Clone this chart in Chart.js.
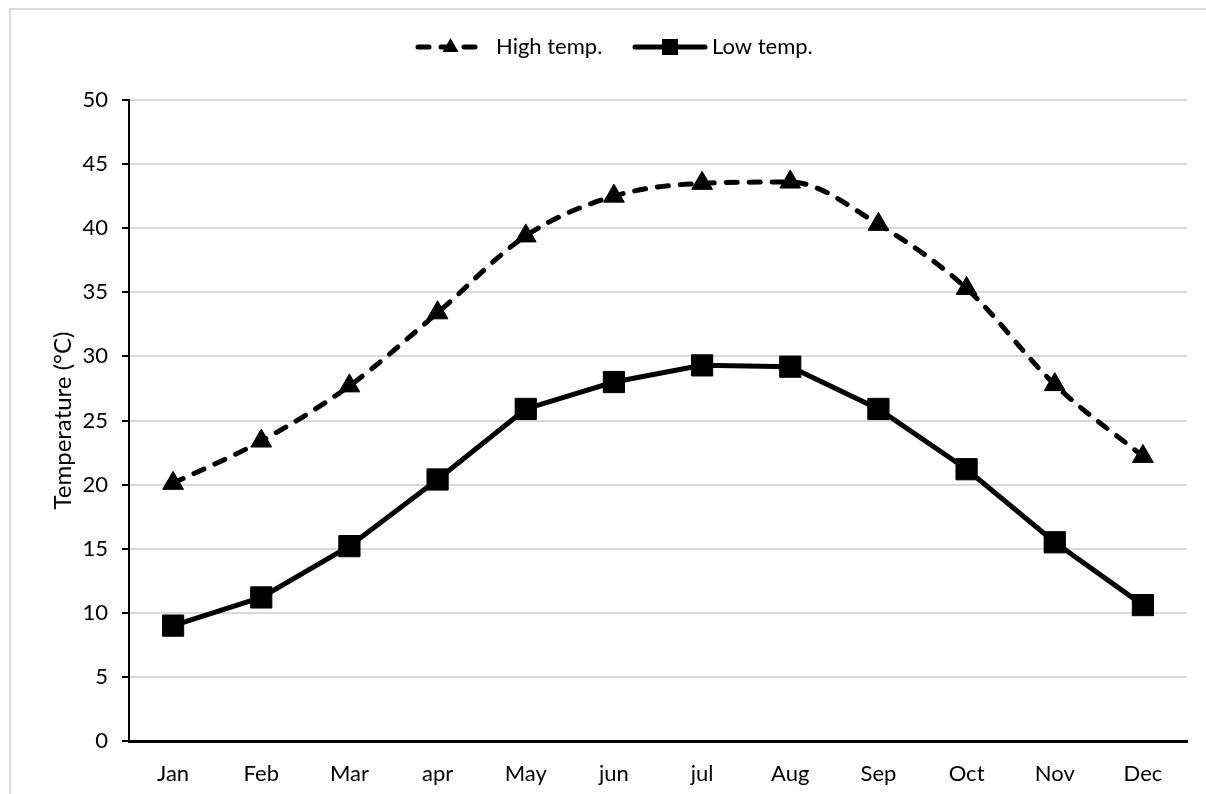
<!DOCTYPE html>
<html>
<head>
<meta charset="utf-8">
<script src="https://cdn.jsdelivr.net/npm/chart.js@4"></script>
<style>
  html, body { margin: 0; padding: 0; background: #fff; }
  #wrap { position: relative; width: 1206px; height: 794px; }
  #frame { position: absolute; left: 9px; top: 8px; width: 1210px; height: 800px; border: 2px solid #d9d9d9; box-sizing: border-box; pointer-events: none; }
  canvas { position: absolute; left: 0; top: 0; }
</style>
</head>
<body>
<div id="wrap">
  <canvas id="c" width="1206" height="794"></canvas>
  <div id="frame"></div>
</div>
<script>
const categories = ['Jan', 'Feb', 'Mar', 'apr', 'May', 'jun', 'jul', 'Aug', 'Sep', 'Oct', 'Nov', 'Dec'];
const highTemp = [20.1, 23.4, 27.7, 33.4, 39.4, 42.5, 43.5, 43.6, 40.3, 35.3, 27.8, 22.2];
const lowTemp = [9.0, 11.2, 15.2, 20.4, 25.9, 28.0, 29.3, 29.2, 25.9, 21.2, 15.5, 10.6];
const yTicks = [0, 5, 10, 15, 20, 25, 30, 35, 40, 45, 50];
const seriesNames = ['High temp.', 'Low temp.'];
const yTitle = 'Temperature (°C)';

const FONT = 'Lato, "Open Sans", sans-serif';
const FSIZE = 22;

const extrasPlugin = {
  id: 'extras',
  afterDraw(chart) {
    const ctx = chart.ctx;
    const y = 47;
    const items = [
      { ds: chart.data.datasets[0], x0: 418, x1: 483, text: 496, name: seriesNames[0] },
      { ds: chart.data.datasets[1], x0: 635, x1: 705, text: 712, name: seriesNames[1] }
    ];
    ctx.save();
    items.forEach(it => {
      const ds = it.ds;
      ctx.beginPath();
      ctx.lineWidth = ds.borderWidth;
      ctx.strokeStyle = ds.borderColor;
      ctx.lineCap = 'round';
      ctx.setLineDash(ds.borderDash || []);
      ctx.moveTo(it.x0, y);
      ctx.lineTo(it.x1, y);
      ctx.stroke();
      ctx.setLineDash([]);
      const cx = (it.x0 + it.x1) / 2;
      ctx.fillStyle = '#000';
      ctx.beginPath();
      if (ds.pointStyle === 'triangle') {
        ctx.moveTo(cx, y - 9);
        ctx.lineTo(cx + 8, y + 5);
        ctx.lineTo(cx - 8, y + 5);
        ctx.closePath();
      } else {
        ctx.rect(cx - 8, y - 8, 16, 16);
      }
      ctx.fill();
      ctx.font = FSIZE + 'px ' + FONT;
      ctx.textBaseline = 'middle';
      ctx.textAlign = 'left';
      ctx.fillText(it.name, it.text, y);
    });
    // y axis title
    const area = chart.chartArea;
    ctx.translate(63, (area.top + area.bottom) / 2);
    ctx.rotate(-Math.PI / 2);
    ctx.textAlign = 'center';
    ctx.textBaseline = 'middle';
    ctx.font = '24px ' + FONT;
    ctx.fillText(yTitle, 0, 0);
    ctx.restore();
  }
};

new Chart(document.getElementById('c'), {
  type: 'line',
  data: {
    labels: categories,
    datasets: [
      {
        label: seriesNames[0],
        data: highTemp,
        borderColor: '#000',
        backgroundColor: '#000',
        borderWidth: 5,
        borderDash: [11, 12],
        borderCapStyle: 'round',
        cubicInterpolationMode: 'monotone',
        pointStyle: 'triangle',
        pointRadius: 12,
        pointBorderWidth: 1,
        pointBackgroundColor: '#000',
        pointBorderColor: '#000',
        fill: false
      },
      {
        label: seriesNames[1],
        data: lowTemp,
        borderColor: '#000',
        backgroundColor: '#000',
        borderWidth: 5,
        tension: 0,
        pointStyle: 'rect',
        pointRadius: 15,
        pointBorderWidth: 1,
        pointBackgroundColor: '#000',
        pointBorderColor: '#000',
        fill: false
      }
    ]
  },
  options: {
    responsive: false,
    animation: false,
    devicePixelRatio: 1,
    layout: { padding: { left: 0, right: 19, top: 100, bottom: 0 } },
    plugins: {
      legend: { display: false },
      tooltip: { enabled: false }
    },
    scales: {
      x: {
        offset: true,
        grid: { display: false, offset: true },
        border: { display: true, color: '#000', width: 3 },
        ticks: { color: '#000', font: { family: FONT, size: FSIZE }, padding: 12 },
        afterFit(scale) { scale.height = 53; }
      },
      y: {
        min: 0,
        max: 50,
        afterBuildTicks(scale) { scale.ticks = yTicks.map(v => ({ value: v })); },
        grid: { color: '#d9d9d9', lineWidth: 2, tickColor: '#000', tickLength: 7, drawTicks: true },
        border: { display: true, color: '#000', width: 2 },
        ticks: { color: '#000', font: { family: FONT, size: FSIZE }, padding: 14 },
        afterFit(scale) { scale.width = 129; }
      }
    }
  },
  plugins: [extrasPlugin]
});
</script>
</body>
</html>
